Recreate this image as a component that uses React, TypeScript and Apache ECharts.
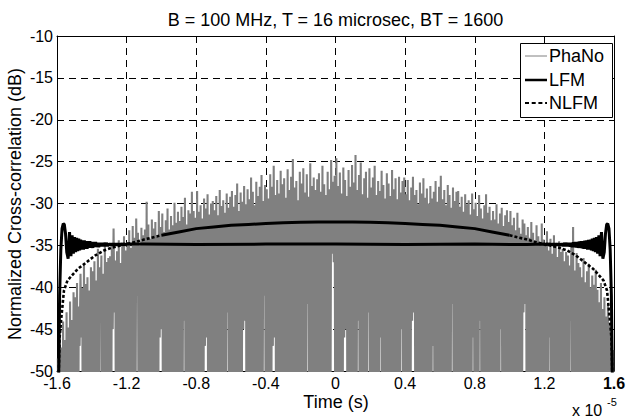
import { useEffect, useRef } from 'react';
import * as echarts from 'echarts';

const FONT = '"Liberation Sans", Arial, Helvetica, sans-serif';

const TITLE = 'B = 100 MHz, T = 16 microsec, BT = 1600';
const X_NAME = 'Time (s)';
const Y_NAME = 'Normalized Cross-correlation (dB)';
const X_EXP_BASE = 'x 10';
const X_EXP_POWER = '-5';
const SERIES_NAMES = ['PhaNo', 'LFM', 'NLFM'];

const X_MIN = -1.6;
const X_MAX = 1.6;
const X_STEP = 0.4;
const Y_MIN = -50;
const Y_MAX = -10;
const Y_STEP = 5;
const X_TICK_LABELS = ['-1.6', '-1.2', '-0.8', '-0.4', '0', '0.4', '0.8', '1.2', '1.6'];
const Y_TICK_LABELS = ['-50', '-45', '-40', '-35', '-30', '-25', '-20', '-15', '-10'];

// PhaNo: sampled every 0.01 (x 10^-5 s): a peak, then a trough half a step later
const PHANO_T0 = -1.595;
const PHANO_DT = 0.01;
const PHANO_PEAKS = [
  -48.5, -45.8, -47.2, -44.1, -46.3, -43.0, -44.8, -41.7, -43.9, -40.6,
  -41.2, -39.5, -42.3, -38.4, -40.1, -37.2, -39.6, -38.8, -40.4, -37.6,
  -38.1, -36.9, -39.2, -35.4, -37.6, -36.2, -38.4, -34.7, -37.0, -36.5,
  -36.3, -35.1, -33.0, -36.8, -35.7, -34.4, -37.1, -35.0, -33.9, -35.6,
  -34.6, -33.2, -35.3, -32.7, -34.1, -31.8, -33.5, -35.0, -32.9, -33.8,
  -33.1, -29.8, -32.5, -34.2, -31.9, -33.0, -32.2, -34.0, -30.9, -32.8,
  -31.2, -33.4, -32.0, -30.6, -33.1, -31.5, -32.6, -29.9, -32.3, -31.0,
  -32.1, -30.4, -31.6, -29.3, -32.5, -30.8, -31.2, -28.6, -30.9, -31.7,
  -28.5, -31.0, -30.2, -31.8, -29.4, -30.6, -28.9, -31.3, -30.0, -29.7,
  -30.8, -29.1, -31.4, -28.4, -30.3, -29.6, -31.1, -28.8, -30.5, -29.2,
  -28.5, -30.4, -29.0, -27.6, -30.9, -28.7, -29.8, -27.9, -30.1, -28.3,
  -29.5, -26.9, -28.6, -30.2, -27.4, -29.1, -28.0, -26.6, -29.7, -27.8,
  -28.3, -29.4, -26.5, -28.0, -25.5, -29.0, -27.2, -28.8, -26.1, -27.7,
  -27.0, -29.3, -25.9, -28.4, -26.8, -24.7, -28.1, -27.3, -29.6, -26.2,
  -27.6, -25.8, -28.7, -26.5, -29.2, -25.2, -27.9, -26.9, -28.4, -27.1,
  -26.4, -28.6, -25.5, -27.7, -29.0, -26.2, -28.3, -24.8, -27.4, -26.7,
  -24.6, -27.9, -26.3, -28.8, -25.7, -27.2, -29.1, -26.0, -28.0, -25.4,
  -27.5, -24.2, -28.4, -26.6, -25.1, -28.9, -27.0, -26.2, -29.3, -25.8,
  -28.1, -26.9, -25.5, -29.0, -27.3, -28.5, -26.1, -27.8, -29.4, -26.4,
  -27.6, -29.1, -26.0, -28.3, -27.0, -29.5, -26.8, -28.7, -27.3, -26.9,
  -28.9, -27.2, -29.6, -28.1, -26.8, -29.0, -28.4, -30.1, -27.5, -28.8,
  -27.0, -29.3, -28.2, -30.0, -27.9, -29.4, -28.6, -27.3, -29.8, -28.0,
  -26.7, -29.5, -28.4, -30.2, -27.8, -29.0, -30.5, -28.1, -29.7, -28.6,
  -28.5, -30.4, -29.2, -31.0, -28.9, -30.1, -29.6, -31.3, -28.8, -30.7,
  -29.9, -31.5, -29.0, -30.6, -31.8, -30.2, -28.9, -31.1, -30.4, -32.0,
  -30.9, -31.9, -30.1, -32.4, -31.2, -30.5, -32.7, -31.4, -30.8, -32.2,
  -30.9, -32.6, -31.7, -33.2, -31.1, -32.9, -33.6, -31.9, -32.4, -33.8,
  -32.8, -34.1, -32.2, -33.5, -34.6, -32.6, -33.9, -35.0, -32.4, -34.3,
  -34.7, -33.3, -35.6, -34.2, -36.0, -33.8, -35.1, -36.4, -34.5, -35.8,
  -35.4, -36.9, -35.8, -36.2, -37.4, -35.0, -32.8, -38.0, -35.9, -37.1,
  -37.6, -38.8, -36.5, -39.4, -38.1, -37.2, -40.0, -38.6, -39.7, -37.9,
  -40.3, -41.8, -39.5, -42.6, -41.2, -43.5, -42.0, -44.6, -45.8, -47.5,
];
const PHANO_TROUGHS = [
  -70, -66, -72, -68, -64, -71, -69, -67, -73, -65,
  -68, -72, -47, -46, -70, -66, -71, -69, -64, -72,
  -67, -70, -65, -73, -44, -68, -71, -66, -69, -70,
  -72, -45, -43, -68, -70, -67, -71, -65, -69, -73,
  -66, -70, -68, -72, -64, -41, -69, -71, -67, -70,
  -70, -68, -73, -66, -71, -69, -65, -72, -46, -45,
  -68, -71, -67, -70, -64, -72, -69, -66, -70, -68,
  -71, -67, -44, -69, -72, -66, -70, -68, -73, -65,
  -69, -72, -66, -70, -47, -46, -71, -68, -67, -70,
  -66, -70, -72, -68, -71, -65, -69, -43, -70, -67,
  -72, -68, -70, -66, -73, -69, -45, -44, -68, -71,
  -67, -71, -69, -72, -65, -70, -68, -66, -41, -70,
  -70, -66, -68, -47, -46, -71, -69, -73, -67, -70,
  -68, -72, -65, -70, -69, -67, -71, -66, -70, -72,
  -69, -67, -71, -42, -70, -68, -66, -72, -69, -65,
  -71, -68, -70, -67, -73, -69, -66, -36, -37, -70,
  -66, -70, -72, -68, -46, -45, -71, -69, -67, -70,
  -70, -68, -44, -71, -66, -69, -72, -67, -43, -70,
  -68, -71, -67, -70, -69, -46, -72, -66, -70, -68,
  -72, -66, -70, -68, -71, -69, -65, -45, -70, -67,
  -67, -71, -69, -44, -43, -70, -68, -72, -66, -70,
  -70, -68, -72, -66, -70, -47, -69, -71, -67, -72,
  -69, -72, -66, -70, -68, -71, -42, -67, -70, -68,
  -71, -67, -70, -69, -72, -66, -70, -68, -46, -71,
  -68, -70, -44, -72, -67, -69, -71, -66, -70, -73,
  -70, -66, -71, -68, -45, -70, -72, -67, -69, -68,
  -72, -69, -67, -71, -70, -66, -68, -43, -42, -70,
  -67, -71, -70, -68, -72, -69, -66, -70, -67, -71,
  -70, -68, -46, -71, -69, -67, -72, -70, -68, -66,
  -69, -72, -67, -70, -44, -68, -71, -66, -70, -69,
  -71, -67, -70, -68, -72, -69, -66, -71, -68, -70,
  -68, -71, -69, -66, -70, -72, -67, -70, -69, -68,
];

// LFM: [time (x 10^-5 s), dB]
const LFM_LEFT = [
  [-1.591, -52], [-1.585, -41], [-1.578, -35.5], [-1.571, -33.0], [-1.564, -32.4],
  [-1.558, -32.5], [-1.551, -33.6], [-1.544, -35.8], [-1.536, -36.6], [-1.528, -33.4],
  [-1.52, -36.3], [-1.513, -33.8], [-1.506, -36.0], [-1.499, -34.0], [-1.493, -35.8],
  [-1.487, -34.1], [-1.481, -35.7], [-1.475, -34.2], [-1.47, -35.6], [-1.464, -34.3],
  [-1.459, -35.5], [-1.453, -34.4], [-1.448, -35.5], [-1.443, -34.4], [-1.437, -35.4],
  [-1.432, -34.5], [-1.427, -35.4], [-1.421, -34.5], [-1.416, -35.3], [-1.411, -34.5],
  [-1.405, -35.3], [-1.4, -34.6], [-1.394, -35.3], [-1.389, -34.6], [-1.383, -35.2],
  [-1.378, -34.6], [-1.372, -35.2], [-1.366, -34.7], [-1.36, -35.2], [-1.354, -34.7],
  [-1.348, -35.1], [-1.342, -34.7], [-1.336, -35.1], [-1.33, -34.7], [-1.323, -35.1],
  [-1.317, -34.7], [-1.31, -35.1], [-1.304, -34.8], [-1.297, -35.0], [-1.29, -34.8],
  [-1.283, -35.0], [-1.276, -34.8], [-1.269, -35.0], [-1.262, -34.8], [-1.255, -35.0],
  [-1.248, -34.8], [-1.24, -35.0], [-1.232, -34.8], [-1.224, -34.95], [-1.216, -34.8],
  [-1.208, -34.95], [-1.2, -34.85],
];
const LFM_MID = [
  [-1.1, -34.85], [-0.8, -34.9], [-0.4, -34.85], [0, -34.85], [0.4, -34.9], [0.8, -34.85], [1.1, -34.9],
];
const LFM_RIGHT = [
  [1.2, -34.85], [1.208, -34.95], [1.216, -34.8], [1.224, -34.95], [1.232, -34.8],
  [1.24, -35.0], [1.248, -34.8], [1.255, -35.0], [1.262, -34.8], [1.269, -35.0],
  [1.276, -34.8], [1.283, -35.0], [1.29, -34.8], [1.297, -35.05], [1.304, -34.75],
  [1.31, -35.1], [1.317, -34.7], [1.323, -35.1], [1.33, -34.7], [1.336, -35.1],
  [1.342, -34.7], [1.348, -35.15], [1.354, -34.7], [1.36, -35.2], [1.366, -34.65],
  [1.372, -35.2], [1.378, -34.6], [1.383, -35.25], [1.389, -34.6], [1.394, -35.3],
  [1.4, -34.55], [1.405, -35.3], [1.411, -34.5], [1.416, -35.35], [1.421, -34.5],
  [1.427, -35.4], [1.432, -34.45], [1.437, -35.4], [1.443, -34.4], [1.448, -35.5],
  [1.453, -34.35], [1.459, -35.5], [1.464, -34.3], [1.47, -35.6], [1.475, -34.2],
  [1.481, -35.7], [1.487, -34.1], [1.493, -35.8], [1.499, -34.0], [1.506, -36.0],
  [1.513, -33.8], [1.52, -36.3], [1.528, -33.4], [1.536, -36.6], [1.544, -35.8],
  [1.551, -33.6], [1.558, -32.5], [1.564, -32.4], [1.571, -33.0], [1.578, -35.5],
  [1.585, -41], [1.591, -52],
];

// NLFM: [time (x 10^-5 s), dB]
const NLFM_POINTS = [
  [-1.592, -52], [-1.585, -46], [-1.575, -43.6], [-1.56, -40.4], [-1.54, -39.2],
  [-1.515, -38.6], [-1.48, -37.8], [-1.43, -37.0], [-1.38, -36.2], [-1.33, -35.6],
  [-1.28, -35.25], [-1.2, -34.85], [-1.15, -34.6], [-1.1, -34.3], [-1.0, -33.8],
  [-0.9, -33.4], [-0.8, -33.0], [-0.7, -32.8], [-0.6, -32.6], [-0.5, -32.5],
  [-0.4, -32.4], [-0.3, -32.3], [-0.2, -32.25], [-0.1, -32.2], [0, -32.2],
  [0.1, -32.2], [0.2, -32.25], [0.3, -32.3], [0.4, -32.4], [0.5, -32.5],
  [0.6, -32.6], [0.7, -32.8], [0.8, -33.0], [0.9, -33.4], [1.0, -33.8],
  [1.1, -34.3], [1.15, -34.6], [1.2, -34.85], [1.28, -35.25], [1.33, -35.6],
  [1.38, -36.2], [1.43, -37.0], [1.48, -37.8], [1.515, -38.6], [1.54, -39.2],
  [1.56, -40.4], [1.575, -43.6], [1.585, -46], [1.592, -52],
];
const NLFM_SOLID_LIMIT = 1.0;

const PHANO_COLOR = '#808080';
const NLFM_DASH = [3, 2];

function buildPhaNo() {
  const out: number[][] = [];
  PHANO_PEAKS.forEach((p, i) => {
    const t = PHANO_T0 + i * PHANO_DT;
    out.push([t, p]);
    out.push([t + PHANO_DT / 2, PHANO_TROUGHS[i]]);
  });
  return out;
}

export default function App() {
  const ref = useRef<HTMLDivElement>(null);

  useEffect(() => {
    if (!ref.current) return;
    const chart = echarts.init(ref.current, undefined, { renderer: 'svg' });

    const nlfmLeft = NLFM_POINTS.filter((p) => p[0] <= -NLFM_SOLID_LIMIT);
    const nlfmRight = NLFM_POINTS.filter((p) => p[0] >= NLFM_SOLID_LIMIT);
    const nlfmMid = NLFM_POINTS.filter((p) => Math.abs(p[0]) <= NLFM_SOLID_LIMIT);

    const xFmt = (v: number) => {
      const i = Math.round((v - X_MIN) / X_STEP);
      const s = X_TICK_LABELS[i] ?? '';
      return i === X_TICK_LABELS.length - 1 ? `{b|${s}}` : s;
    };
    const yFmt = (v: number) => Y_TICK_LABELS[Math.round((v - Y_MIN) / Y_STEP)] ?? '';

    const axisLine = { show: true, onZero: false, lineStyle: { color: '#000', width: 1 } };
    const axisTick = { show: true, inside: true, length: 5, lineStyle: { color: '#000', width: 1 } };
    const split = { show: true, lineStyle: { color: '#000', width: 1, type: [7, 5] } };

    // legend box drawn with graphic elements
    const LX = 520.5;
    const LY = 43.5;
    const LW = 92;
    const LH = 74;
    const rowY = [56, 80, 103];
    const legendStyles = [
      { stroke: PHANO_COLOR, lineWidth: 1 },
      { stroke: '#000', lineWidth: 2.5 },
      { stroke: '#000', lineWidth: 2, lineDash: [4, 2.7] },
    ];
    const legendGraphics: any[] = [
      { type: 'rect', z: 100, shape: { x: LX, y: LY, width: LW, height: LH }, style: { fill: '#fff', stroke: '#000', lineWidth: 1 } },
    ];
    SERIES_NAMES.forEach((name, i) => {
      legendGraphics.push({ type: 'line', z: 101, shape: { x1: 525, y1: rowY[i], x2: 547, y2: rowY[i] }, style: legendStyles[i] });
      legendGraphics.push({
        type: 'text', z: 101, x: 549, y: rowY[i],
        style: { text: name, fontSize: 18, fontFamily: FONT, fill: '#000', align: 'left', verticalAlign: 'middle' },
      });
    });

    const option: any = {
      animation: false,
      backgroundColor: '#ffffff',
      textStyle: { fontFamily: FONT },
      grid: { left: 57, right: 15, top: 36, bottom: 46, containLabel: false, outerBoundsMode: 'none' },
      xAxis: [
        {
          type: 'value', min: X_MIN, max: X_MAX, interval: X_STEP, position: 'bottom',
          axisLine, axisTick,
          axisLabel: {
            show: true, margin: 4, fontSize: 16, color: '#000', fontFamily: FONT, formatter: xFmt,
            showMinLabel: true, showMaxLabel: true,
            rich: { b: { fontSize: 16, fontWeight: 'bold', color: '#000', fontFamily: FONT } },
          },
          splitLine: split,
        },
        {
          type: 'value', min: X_MIN, max: X_MAX, interval: X_STEP, position: 'top',
          axisLine, axisTick, axisLabel: { show: false }, splitLine: { show: false },
        },
      ],
      yAxis: [
        {
          type: 'value', min: Y_MIN, max: Y_MAX, interval: Y_STEP, position: 'left',
          axisLine, axisTick,
          axisLabel: { show: true, margin: 4, fontSize: 16, color: '#000', fontFamily: FONT, formatter: yFmt },
          splitLine: split,
        },
        {
          type: 'value', min: Y_MIN, max: Y_MAX, interval: Y_STEP, position: 'right',
          axisLine, axisTick, axisLabel: { show: false }, splitLine: { show: false },
        },
      ],
      series: [
        {
          name: SERIES_NAMES[0], type: 'line', data: buildPhaNo(), symbol: 'none', showSymbol: false,
          lineStyle: { color: PHANO_COLOR, width: 2.1 }, itemStyle: { color: PHANO_COLOR }, z: 2,
        },
        {
          name: SERIES_NAMES[1], type: 'line', data: [...LFM_LEFT, ...LFM_MID, ...LFM_RIGHT], symbol: 'none',
          showSymbol: false, lineStyle: { color: '#000', width: 3 }, itemStyle: { color: '#000' }, z: 3,
        },
        {
          name: SERIES_NAMES[2], type: 'line', data: [...nlfmLeft, [0, '-'], ...nlfmRight], symbol: 'none',
          showSymbol: false, connectNulls: false,
          lineStyle: { color: '#000', width: 2.6, type: NLFM_DASH }, itemStyle: { color: '#000' }, z: 4,
        },
        {
          name: 'NLFM centre', type: 'line', data: nlfmMid, symbol: 'none', showSymbol: false,
          lineStyle: { color: '#000', width: 3 }, itemStyle: { color: '#000' }, z: 4,
        },
      ],
      graphic: [
        { type: 'text', z: 100, x: 335.5, y: 20, style: { text: TITLE, fontSize: 18, fontFamily: FONT, fill: '#000', align: 'center', verticalAlign: 'middle' } },
        { type: 'text', z: 100, x: 336, y: 401.5, style: { text: X_NAME, fontSize: 18, fontFamily: FONT, fill: '#000', align: 'center', verticalAlign: 'middle' } },
        { type: 'text', z: 100, x: 15, y: 204, rotation: Math.PI / 2, style: { text: Y_NAME, fontSize: 18, fontFamily: FONT, fill: '#000', align: 'center', verticalAlign: 'middle' } },
        { type: 'text', z: 100, x: 572, y: 410, style: { text: X_EXP_BASE, fontSize: 16, fontFamily: FONT, fill: '#000', align: 'left', verticalAlign: 'middle' } },
        { type: 'text', z: 100, x: 607, y: 402, style: { text: X_EXP_POWER, fontSize: 11, fontFamily: FONT, fill: '#000', align: 'left', verticalAlign: 'middle' } },
        ...legendGraphics,
      ],
    };

    chart.setOption(option);
    return () => chart.dispose();
  }, []);

  return (
    <div
      ref={ref}
      style={{ position: 'fixed', left: 0, top: 0, width: 629, height: 417, background: '#fff' }}
    />
  );
}
